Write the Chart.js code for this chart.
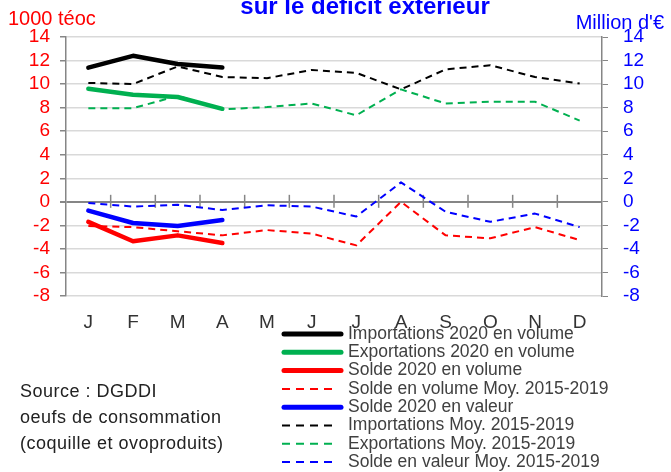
<!DOCTYPE html>
<html><head><meta charset="utf-8">
<script src="https://cdn.jsdelivr.net/npm/chart.js@4/dist/chart.umd.min.js"></script>
<style>html,body{margin:0;padding:0;background:#fff;overflow:hidden}#wrap{width:671px;height:472px;position:relative}</style>
</head><body><div id="wrap"><canvas id="c" width="671" height="472"></canvas></div>
<script>
const months = ['J','F','M','A','M','J','J','A','S','O','N','D'];
const importations2020 = [11.4, 12.4, 11.7, 11.4];
const exportations2020 = [9.6, 9.1, 8.9, 7.9];
const soldeVolume2020 = [-1.7, -3.35, -2.85, -3.5];
const soldeVolumeMoy = [-2.05, -2.15, -2.5, -2.85, -2.4, -2.7, -3.7, 0.0, -2.85, -3.1, -2.15, -3.25];
const soldeValeur2020 = [-0.75, -1.8, -2.05, -1.55];
const importationsMoy = [10.1, 10.0, 11.5, 10.6, 10.5, 11.2, 10.95, 9.55, 11.25, 11.6, 10.6, 10.05];
const exportationsMoy = [7.95, 7.95, 9.0, 7.85, 8.05, 8.35, 7.35, 9.55, 8.35, 8.5, 8.5, 6.9];
const soldeValeurMoy = [-0.1, -0.4, -0.25, -0.7, -0.3, -0.4, -1.25, 1.65, -0.85, -1.7, -1.0, -2.15];

const FONT = "'Liberation Sans', Arial, sans-serif";
const BLACK = '#000000', GREEN = '#00B050', RED = '#FF0000', BLUE = '#0000FF';
const DASH = [7,5];

function solid(label, data, color, axis){
  return {label, data, borderColor: color, backgroundColor: color, borderWidth: 4.5, pointRadius: 0,
    borderCapStyle:'round', borderJoinStyle:'round', yAxisID: axis, tension: 0, fill:false};
}
function dashed(label, data, color, axis){
  return {label, data, borderColor: color, backgroundColor: color, borderWidth: 2, borderDash: DASH, pointRadius: 0,
    borderJoinStyle:'round', yAxisID: axis, tension: 0, fill:false};
}

const datasets = [
  solid('Importations 2020 en volume', importations2020, BLACK, 'y'),
  solid('Exportations 2020 en volume', exportations2020, GREEN, 'y'),
  solid('Solde 2020 en volume', soldeVolume2020, RED, 'y'),
  dashed('Solde en volume Moy. 2015-2019', soldeVolumeMoy, RED, 'y'),
  solid('Solde 2020 en valeur', soldeValeur2020, BLUE, 'y2'),
  dashed('Importations Moy. 2015-2019', importationsMoy, BLACK, 'y'),
  dashed('Exportations Moy. 2015-2019', exportationsMoy, GREEN, 'y'),
  dashed('Solde en valeur Moy. 2015-2019', soldeValeurMoy, BLUE, 'y2')
];

const decor = {
  id: 'decor',
  beforeDatasetsDraw(chart){
    const ctx = chart.ctx, xs = chart.scales.x, ys = chart.scales.y;
    const y0 = ys.getPixelForValue(0);
    ctx.save();
    ctx.strokeStyle = '#868686'; ctx.lineWidth = 1.5;
    for (let i = 1; i < months.length; i++){
      const x = (xs.getPixelForValue(i-1) + xs.getPixelForValue(i)) / 2;
      ctx.beginPath(); ctx.moveTo(x, y0 - 7); ctx.lineTo(x, y0 + 6); ctx.stroke();
    }
    ctx.restore();
  },
  afterDraw(chart){
    const ctx = chart.ctx;
    ctx.save();
    ctx.textBaseline = 'alphabetic';
    ctx.font = 'bold 24px ' + FONT; ctx.fillStyle = BLUE; ctx.textAlign = 'center';
    ctx.fillText('sur le déficit extérieur', 365, 14);
    ctx.font = '20px ' + FONT; ctx.fillStyle = RED; ctx.textAlign = 'left';
    ctx.fillText('1000 téoc', 8, 25);
    ctx.fillStyle = BLUE; ctx.textAlign = 'right';
    ctx.fillText("Million d'€", 664, 29);
    // source
    ctx.font = '18px ' + FONT; ctx.fillStyle = '#222'; ctx.textAlign = 'left';
    try { ctx.letterSpacing = '0.5px'; } catch(e) {}
    ctx.fillText('Source : DGDDI', 20, 397);
    ctx.fillText('oeufs de consommation', 20, 423);
    ctx.fillText('(coquille et ovoproduits)', 20, 449);
    try { ctx.letterSpacing = '0px'; } catch(e) {}
    // legend
    const lx1 = 284, lx2 = 341, tx = 348, ly0 = 334, dy = 18.3;
    chart.data.datasets.forEach((ds, i) => {
      const y = ly0 + i * dy;
      ctx.save();
      ctx.strokeStyle = ds.borderColor;
      if (ds.borderDash){ ctx.lineWidth = 2; ctx.setLineDash([8,6]); ctx.lineCap='butt';
        ctx.beginPath(); ctx.moveTo(lx1-2, y); ctx.lineTo(lx2-6, y); ctx.stroke(); }
      else { ctx.lineWidth = 5; ctx.lineCap = 'round';
        ctx.beginPath(); ctx.moveTo(lx1, y); ctx.lineTo(lx2, y); ctx.stroke(); }
      ctx.restore();
      ctx.font = '17.5px ' + FONT; ctx.fillStyle = '#404040'; ctx.textAlign='left'; ctx.textBaseline='middle';
      ctx.fillText(ds.label, tx, y);
    });
    ctx.restore();
  }
};

new Chart(document.getElementById('c'), {
  type: 'line',
  data: { labels: months, datasets },
  options: {
    responsive: false, animation: false, devicePixelRatio: 1,
    layout: { padding: { top: 37, left: 0, right: 0, bottom: 0 } },
    plugins: { legend: { display: false }, tooltip: { enabled: false }, title: { display: false } },
    scales: {
      x: { type: 'category', position: 'bottom', offset: true,
        grid: { display: false, drawTicks: false, offset: true }, border: { display: false },
        ticks: { color: '#333', font: { size: 19, family: FONT }, padding: 15, maxRotation: 0, autoSkip: false },
        afterFit: s => { s.height = 176; } },
      y: { position: 'left', min: -8, max: 14,
        ticks: { stepSize: 2, autoSkip: false, color: RED, font: { size: 19, family: FONT }, padding: 10 },
        grid: { color: c => (c.tick && c.tick.value === 0) ? '#868686' : '#d9d9d9',
                lineWidth: c => (c.tick && c.tick.value === 0) ? 2 : 1.5,
                tickColor: '#868686', tickLength: 6, drawTicks: true },
        border: { color: '#868686', width: 1.5 },
        afterFit: s => { s.width = 66; } },
      y2: { position: 'right', min: -8, max: 14,
        ticks: { stepSize: 2, autoSkip: false, color: BLUE, font: { size: 19, family: FONT }, padding: 15 },
        grid: { drawOnChartArea: false, tickColor: '#868686', tickLength: 6, drawTicks: true },
        border: { color: '#868686', width: 1.5 },
        afterFit: s => { s.width = 69; } }
    }
  },
  plugins: [decor]
});
</script>
</body></html>
